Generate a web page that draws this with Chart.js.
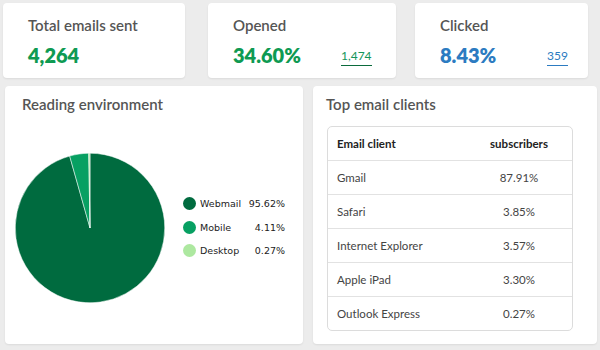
<!DOCTYPE html>
<html>
<head>
<meta charset="utf-8">
<script src="https://cdn.jsdelivr.net/npm/chart.js@4/dist/chart.umd.min.js"></script>
<style>
  html, body { margin:0; padding:0; }
  body { width:600px; height:350px; background:#ececec; font-family:Lato, "Open Sans", sans-serif; position:relative; overflow:hidden; }
  .card { position:absolute; background:#fff; border-radius:4px; box-shadow:0 1px 2px rgba(0,0,0,0.08); }
  .kpi-title { position:absolute; font-size:15px; font-weight:600; color:#555; }
  .kpi-val { position:absolute; font-size:20px; font-weight:800; }
  .kpi-sub { position:absolute; font-size:12px; padding-bottom:2px; }
  .card-title { position:absolute; font-size:15px; font-weight:600; color:#555; }
  #pie-box { position:absolute; left:15px; top:153px; width:150px; height:150px; }
  #legenda { position:absolute; left:183px; top:197px; width:105px; font-family:"DejaVu Sans", Verdana, sans-serif; font-size:9.5px; color:#222; }
  .leg-item { position:relative; height:23.5px; }
  .leg-dot { position:absolute; left:0; top:0; width:13px; height:13px; border-radius:50%; }
  .leg-nome { position:absolute; left:17px; top:1px; }
  .leg-pct { position:absolute; right:3px; top:1px; }
  #tabela { position:absolute; left:327px; top:126px; width:246px; border:1px solid #dcdcdc; border-radius:5px; border-collapse:separate; border-spacing:0; font-size:11.5px; color:#444; }
  #tabela td, #tabela th { height:33px; padding:0 0 0 9px; border-bottom:1px solid #e2e2e2; text-align:left; }
  #tabela tr:last-child td { border-bottom:none; }
  #tabela th { font-weight:700; color:#222; font-size:11.5px; }
  #tabela .pct { text-align:center; padding:0; width:106px; }
</style>
</head>
<body>
  <div class="card" style="left:3px;top:3px;width:182px;height:75px"></div>
  <div class="card" style="left:208px;top:3px;width:188px;height:75px"></div>
  <div class="card" style="left:415px;top:3px;width:173px;height:75px"></div>

  <div class="kpi-title" style="left:28px;top:16px">Total emails sent</div>
  <div class="kpi-val" style="left:28px;top:43px;color:#0e9a52" id="kpi-total"></div>

  <div class="kpi-title" style="left:233px;top:16px">Opened</div>
  <div class="kpi-val" style="left:233px;top:43px;color:#0e9a52" id="kpi-open-pct"></div>
  <div class="kpi-sub" style="left:341px;top:48px;color:#13955a;border-bottom:1px solid #0b6b3c" id="kpi-open-n"></div>

  <div class="kpi-title" style="left:440px;top:16px">Clicked</div>
  <div class="kpi-val" style="left:440px;top:43px;color:#2c7bc1" id="kpi-click-pct"></div>
  <div class="kpi-sub" style="left:547px;top:48px;color:#2c7bc1;border-bottom:1px solid #2c7bc1" id="kpi-click-n"></div>

  <div class="card" style="left:5px;top:86px;width:298px;height:258px"></div>
  <div class="card" style="left:313px;top:86px;width:284px;height:258px"></div>

  <div class="card-title" style="left:22px;top:95px">Reading environment</div>
  <div id="pie-box"><canvas id="chart-ambiente"></canvas></div>
  <div id="legenda"></div>

  <div class="card-title" style="left:326px;top:95px">Top email clients</div>
  <table id="tabela"></table>

<script>
const totalEnviados = 4264;
const abertosPct = 34.60;
const abertosQtd = 1474;
const clicadosPct = 8.43;
const clicadosQtd = 359;

const ambientes = ['Webmail', 'Mobile', 'Desktop'];
const ambientesPct = [95.62, 4.11, 0.27];
const ambientesCores = ['#006b3f', '#07a062', '#ade8a0'];

const clientes = ['Gmail', 'Safari', 'Internet Explorer', 'Apple iPad', 'Outlook Express'];
const clientesPct = [87.91, 3.85, 3.57, 3.30, 0.27];

const fmtPct = v => v.toFixed(2) + '%';

document.getElementById('kpi-total').textContent = totalEnviados.toLocaleString('en-US');
document.getElementById('kpi-open-pct').textContent = fmtPct(abertosPct);
document.getElementById('kpi-open-n').textContent = abertosQtd.toLocaleString('en-US');
document.getElementById('kpi-click-pct').textContent = fmtPct(clicadosPct);
document.getElementById('kpi-click-n').textContent = clicadosQtd.toLocaleString('en-US');

// legenda em html
const leg = document.getElementById('legenda');
ambientes.forEach((nome, i) => {
  const item = document.createElement('div');
  item.className = 'leg-item';
  item.innerHTML = `<div class="leg-dot" style="background:${ambientesCores[i]}"></div>
    <div class="leg-nome">${nome}</div><div class="leg-pct">${fmtPct(ambientesPct[i])}</div>`;
  leg.appendChild(item);
});

// tabela de clientes
const tab = document.getElementById('tabela');
let html = '<tr><th>Email client</th><th class="pct">subscribers</th></tr>';
clientes.forEach((c, i) => { html += `<tr><td>${c}</td><td class="pct">${fmtPct(clientesPct[i])}</td></tr>`; });
tab.innerHTML = html;

new Chart(document.getElementById('chart-ambiente').getContext('2d'), {
  type: 'pie',
  data: { labels: ambientes, datasets: [{ data: ambientesPct, backgroundColor: ambientesCores, borderColor: '#ffffff', borderWidth: 0.5 }] },
  options: {
    responsive: true, maintainAspectRatio: false, animation: false,
    layout: { padding: 0 },
    plugins: { legend: { display: false }, tooltip: { enabled: false } }
  }
});
</script>
</body>
</html>
